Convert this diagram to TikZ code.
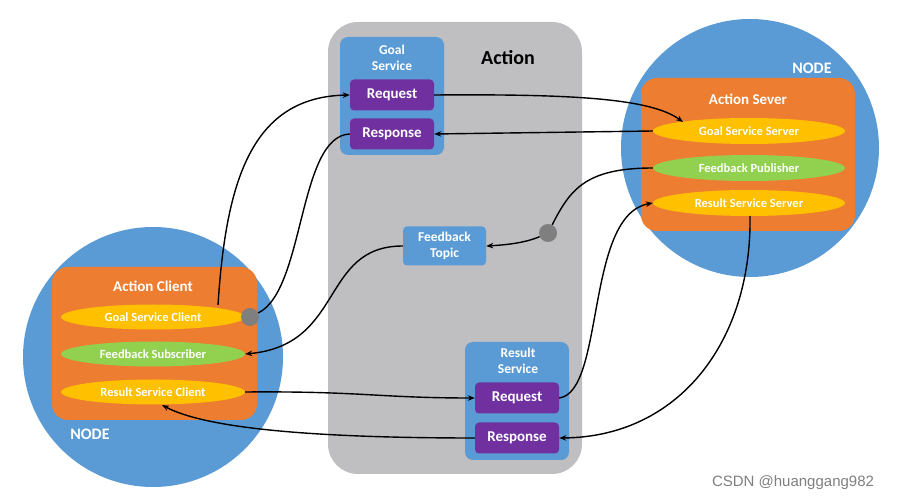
\documentclass[tikz,border=0pt]{standalone}
\usepackage{fontspec}
\setmainfont{Carlito}
\newfontfamily\wmfont{Liberation Sans}
\usetikzlibrary{arrows.meta,shapes.geometric}
\definecolor{cgray}{HTML}{BFBEC0}
\definecolor{cblue}{HTML}{5B9BD5}
\definecolor{cpurp}{HTML}{7030A0}
\definecolor{corange}{HTML}{ED7D31}
\definecolor{cyell}{HTML}{FFC000}
\definecolor{cgreen}{HTML}{92D050}
\definecolor{cdot}{HTML}{7F7F7F}
\tikzset{
  svcbox/.style={fill=cblue, rounded corners=8pt, draw=none},
  msgbox/.style={fill=cpurp, rounded corners=4pt, minimum width=84pt, minimum height=31pt, text=white, font=\fontsize{15}{17}\selectfont\bfseries, inner sep=0pt},
  elli/.style={ellipse, minimum width=#1, minimum height=26pt, text=white, font=\fontsize{12.5}{14}\selectfont\bfseries, inner sep=0pt},
  title/.style={text=white, font=\fontsize{15}{17}\selectfont\bfseries, align=center},
  small/.style={text=white, font=\fontsize{13.5}{15}\selectfont\bfseries, align=center},
  dotc/.style={circle, fill=cdot, minimum size=18pt, inner sep=0pt},
  conn/.style={line width=1.4pt, black},
  arr/.style={conn, -{Stealth[length=7pt,width=5.5pt]}},
}
\begin{document}
\begin{tikzpicture}[x=1pt,y=-1pt]
\useasboundingbox (0,0) rectangle (900,502);
\fill[white] (0,0) rectangle (900,502);
% Action area
\fill[cgray, rounded corners=30pt] (328,22) rectangle (582,474);
\node[font=\fontsize{20}{22}\selectfont\bfseries] (acttitle) at (508,58) {Action};
% Nodes (circles)
\fill[cblue] (750,148) circle (129);
\fill[cblue] (153,357) circle (130);
\node[title, font=\fontsize{16}{18}\selectfont\bfseries] (noderight) at (812,68) {NODE};
\node[title, font=\fontsize{16}{18}\selectfont\bfseries] (nodeleft) at (90,434) {NODE};
% Action server
\fill[corange, rounded corners=16pt] (641,78) rectangle (855,231);
\node[title] (astitle) at (748,99) {Action Sever};
\node[elli=192pt, fill=cyell] (gss) at (749,131) {Goal Service Server};
\node[elli=192pt, fill=cgreen] (fp) at (749,168) {Feedback Publisher};
\node[elli=192pt, fill=cyell] (rss) at (749,203) {Result Service Server};
% Action client
\fill[corange, rounded corners=16pt] (52,267) rectangle (257,420);
\node[title] (actitle) at (153,286) {Action Client};
\node[elli=184pt, fill=cyell, minimum height=25pt] (gsc) at (153,317) {Goal Service Client};
\node[elli=184pt, fill=cgreen, minimum height=25pt] (fs) at (153,354) {Feedback Subscriber};
\node[elli=184pt, fill=cyell, minimum height=25pt] (rsc) at (153,392) {Result Service Client};
% Goal service
\fill[svcbox] (340,37) rectangle (444,155);
\node[small] (gstitle) at (392,58) {Goal\\[1pt]Service};
\node[msgbox] (req) at (392,95) {Request};
\node[msgbox] (resp) at (392,134) {Response};
% Feedback topic
\node[fill=cblue, rounded corners=4pt, minimum width=83pt, minimum height=39pt, small, inner sep=0pt] (ft) at (444.5,246) {Feedback\\[1pt]Topic};
% Result service
\fill[svcbox] (465,342) rectangle (569,460);
\node[small] (rstitle) at (518,361) {Result\\[1pt]Service};
\node[msgbox] (rreq) at (517,398) {Request};
\node[msgbox] (rresp) at (517,438) {Response};
% dots
\node[dotc] (dot1) at (250,317) {};
\node[dotc] (dot2) at (548,233) {};
% connectors
\coordinate (gsctop) at (218,305);
\coordinate (gsstop) at (683,122);
\coordinate (rssbot) at (750,216);
\coordinate (rscbot) at (162,405);
\draw[arr] (gsctop) .. controls (226,180) and (252,97) .. (req.west);
\draw[conn] (resp.west) .. controls (298,136) and (305,290) .. (dot1);
\draw[arr] (req.east) .. controls (570,94) and (650,98) .. (gsstop);
\draw[arr] (gss.west) -- (resp.east);
\draw[conn] (fp.west) .. controls (585,168) and (570,190) .. (dot2);
\draw[arr] (dot2) .. controls (525,243) and (505,245) .. (ft.east);
\draw[arr] (ft.west) .. controls (320,246) and (345,345) .. (fs.east);
\draw[arr] (rsc.east) .. controls (360,391) and (380,398) .. (rreq.west);
\draw[arr] (rreq.east) .. controls (605,392) and (585,215) .. (rss.west);
\draw[arr] (rssbot) .. controls (752,340) and (680,437) .. (rresp.east);
\draw[arr] (rresp.west) .. controls (310,438) and (205,428) .. (rscbot);
% watermark
\node[font=\wmfont\fontsize{15}{17}\selectfont, text=black!50] (wm) at (793,483) {CSDN @huanggang982};
\end{tikzpicture}
\end{document}
